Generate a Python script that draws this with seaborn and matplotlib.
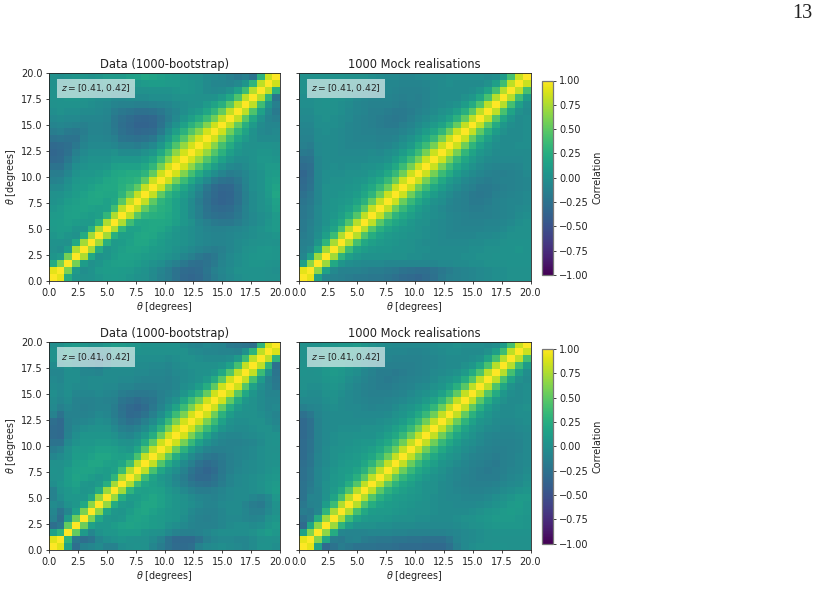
import numpy as np
import matplotlib
matplotlib.use("Agg")
import matplotlib.pyplot as plt
import seaborn as sns

# Upper triangles of the correlation matrices, in hundredths.
# Row i holds the entries for columns i..29 of a 30x30 symmetric matrix.
bootstrap_upper = [
    [100,92,22,4,0,2,5,8,9,8,5,2,0,-5,-12,-16,-24,-32,-34,-32,-24,-16,-10,-6,-2,0,2,2,0,0],
    [100,60,8,-2,2,8,10,10,9,8,4,1,-4,-10,-16,-24,-30,-32,-30,-22,-14,-8,-4,0,2,2,2,0,-1],
    [100,58,10,0,4,10,12,13,12,10,6,2,-2,-8,-14,-20,-26,-28,-24,-18,-10,-6,-2,2,4,4,3,2],
    [100,75,20,2,4,10,14,14,12,10,8,6,2,-2,-8,-14,-20,-24,-20,-12,-6,-2,2,4,5,5,4],
    [100,72,22,4,8,12,16,16,14,10,8,6,2,-2,-6,-10,-14,-16,-14,-8,-4,0,3,5,6,4],
    [100,72,25,8,10,14,18,18,14,10,6,4,2,-2,-6,-8,-10,-10,-8,-4,-2,0,2,3,2],
    [100,72,26,12,12,18,20,18,12,8,4,2,-2,-6,-8,-10,-10,-8,-6,-4,-2,0,2,4],
    [100,75,32,14,14,18,20,18,12,6,2,-2,-6,-10,-12,-12,-10,-8,-6,-2,2,6,8],
    [100,75,38,20,18,20,20,18,12,6,0,-8,-14,-18,-20,-20,-16,-10,-6,-2,4,8],
    [100,80,48,30,26,24,20,14,6,-4,-14,-22,-26,-28,-26,-20,-12,-6,-2,2,8],
    [100,82,52,34,26,22,14,6,-4,-14,-24,-30,-32,-30,-22,-12,-4,0,4,12],
    [100,82,50,30,22,14,6,-4,-16,-26,-33,-36,-34,-26,-14,-4,0,6,14],
    [100,82,50,30,20,10,0,-12,-24,-32,-36,-35,-26,-14,-4,0,8,18],
    [100,84,52,32,18,6,-6,-20,-30,-34,-33,-24,-12,-2,2,10,16],
    [100,85,58,36,20,6,-6,-18,-24,-26,-20,-10,-2,2,10,12],
    [100,86,62,40,22,8,-2,-10,-16,-14,-8,-2,2,8,10],
    [100,86,66,44,26,12,2,-6,-8,-4,0,4,8,8],
    [100,86,68,46,28,14,4,-2,-2,2,6,6,4],
    [100,86,68,46,28,12,4,0,2,4,4,2],
    [100,86,64,40,22,8,2,0,2,2,0],
    [100,86,62,36,18,8,0,-4,-4,-4],
    [100,85,56,32,16,2,-6,-8,-6],
    [100,82,52,26,8,-4,-8,-8],
    [100,82,48,20,2,-10,-14],
    [100,80,44,14,-6,-18],
    [100,80,38,4,-14],
    [100,78,30,-22],
    [100,80,28],
    [100,85],
    [100],
]

mock_upper = [
    [100,92,12,-8,-12,-14,-16,-18,-18,-20,-20,-22,-26,-30,-32,-34,-30,-26,-18,-14,-12,-10,-8,-6,-4,-2,-2,0,0,0],
    [100,65,14,-6,-12,-12,-12,-14,-16,-16,-18,-20,-24,-26,-28,-28,-24,-20,-16,-12,-10,-8,-6,-4,-2,-2,0,0,0],
    [100,70,20,4,-2,-4,-6,-6,-6,-8,-8,-8,-8,-8,-8,-8,-6,-6,-4,-4,-2,-2,0,0,0,2,2,2],
    [100,72,30,12,6,2,2,2,0,0,0,-2,-2,-4,-4,-4,-4,-4,-2,-2,0,0,2,2,2,2,2],
    [100,74,36,16,10,6,4,4,2,2,0,-2,-2,-4,-4,-4,-4,-4,-2,-2,0,0,2,2,4,2],
    [100,76,40,20,12,8,6,4,2,0,-2,-4,-4,-6,-6,-6,-6,-4,-4,-2,-2,0,2,2,2],
    [100,78,44,24,14,8,6,4,2,0,-2,-4,-6,-8,-8,-8,-8,-6,-6,-4,-2,0,0,0],
    [100,78,46,26,16,10,6,4,0,-2,-4,-6,-8,-10,-10,-10,-10,-8,-8,-6,-2,0,0],
    [100,80,48,28,18,12,6,2,0,-4,-6,-8,-10,-12,-12,-12,-10,-10,-8,-6,-2,0],
    [100,82,52,30,20,12,6,2,-2,-4,-8,-10,-12,-14,-14,-14,-12,-10,-8,-4,-2],
    [100,82,54,34,20,10,4,-2,-6,-10,-12,-14,-16,-16,-14,-12,-10,-8,-6,-4],
    [100,84,54,34,20,10,2,-2,-8,-12,-14,-18,-18,-16,-12,-10,-8,-8,-6],
    [100,84,56,34,20,10,2,-4,-10,-14,-18,-20,-18,-14,-12,-10,-8,-6],
    [100,84,56,36,20,10,2,-4,-10,-14,-18,-18,-16,-14,-12,-10,-8],
    [100,84,58,36,20,8,2,-6,-10,-14,-16,-14,-12,-12,-10,-8],
    [100,84,58,36,22,10,2,-4,-8,-12,-14,-14,-12,-10,-6],
    [100,84,58,36,20,10,2,-4,-8,-10,-10,-10,-8,-4],
    [100,84,58,34,18,8,0,-4,-6,-6,-6,-6,-4],
    [100,84,58,32,16,6,0,-4,-4,-4,-4,-4],
    [100,84,56,30,14,4,-2,-4,-4,-2,-2],
    [100,84,52,28,12,2,-4,-4,-4,-2],
    [100,82,50,26,10,0,-4,-4,-2],
    [100,80,48,22,6,-2,-4,-2],
    [100,80,44,18,4,-4,-2],
    [100,80,42,16,0,-4],
    [100,78,40,12,-2],
    [100,78,38,10],
    [100,80,40],
    [100,84],
    [100],
]

bootstrap_lower_bin_upper = [
    [100,90,14,-28,-12,-8,-4,-12,-12,-2,0,2,0,-8,-16,-24,-30,-30,-28,-12,-6,-4,-2,-4,-6,-8,-4,2,2,-2],
    [100,30,-20,-28,-22,-8,-2,2,4,2,0,0,-4,-12,-24,-32,-32,-32,-24,-14,-8,-6,-6,-8,-8,-4,0,2,0],
    [100,52,8,-8,2,6,6,10,10,10,4,2,0,-6,-12,-14,-14,-12,-8,-4,-2,-2,-2,-2,0,6,10,6],
    [100,55,14,6,6,10,14,16,14,12,10,8,2,-2,-6,-10,-12,-12,-12,-8,-4,-2,-2,-4,-2,4,8],
    [100,60,20,6,4,6,14,16,14,10,8,6,4,-2,-8,-12,-14,-12,-8,-6,-6,-8,-10,-8,0,4],
    [100,65,18,6,4,10,16,18,14,10,6,4,0,-6,-10,-12,-12,-8,-4,-4,-8,-14,-14,-6,0],
    [100,68,22,8,6,12,18,18,14,8,4,2,-2,-6,-10,-10,-6,-4,-4,-10,-16,-18,-8,2],
    [100,70,25,10,10,14,18,14,8,4,0,-4,-8,-10,-12,-8,-6,-4,-4,-8,-12,-6,6],
    [100,72,30,14,12,14,12,6,0,-6,-12,-16,-16,-14,-10,-6,-4,-4,-2,0,6,10],
    [100,75,36,18,12,8,2,-6,-14,-20,-24,-26,-22,-16,-10,-6,-4,-2,2,6,8],
    [100,78,38,16,6,0,-8,-16,-26,-32,-32,-26,-18,-10,-6,-4,-2,0,4,6],
    [100,80,42,18,6,-2,-12,-22,-30,-35,-30,-20,-14,-8,-6,-4,-2,2,4],
    [100,82,46,22,8,-4,-14,-24,-30,-26,-20,-14,-10,-6,-4,-2,0,2],
    [100,82,50,24,8,-4,-14,-20,-22,-18,-14,-10,-8,-6,-2,0,2],
    [100,85,54,28,10,-2,-10,-14,-14,-12,-10,-8,-6,-2,0,0],
    [100,85,58,34,14,2,-6,-10,-12,-12,-10,-8,-4,0,2],
    [100,86,60,36,16,2,-6,-8,-8,-6,-4,-2,0,2],
    [100,86,60,36,18,4,-2,-4,-4,-2,0,0,-4],
    [100,86,60,36,14,2,-2,-2,0,0,-4,-8],
    [100,85,56,28,10,2,0,0,-2,-6,-10],
    [100,85,52,24,8,2,0,-4,-8,-6],
    [100,85,50,22,6,0,-4,-8,-8],
    [100,85,48,20,4,-4,-10,-10],
    [100,85,46,14,-2,-10,-18],
    [100,82,40,8,-12,-20],
    [100,82,36,2,-22],
    [100,80,30,-26],
    [100,80,30],
    [100,88],
    [100],
]

mock_lower_bin_upper = [
    [100,92,14,-32,-24,-16,-20,-24,-24,-24,-26,-26,-28,-30,-30,-30,-32,-32,-32,-26,-14,-6,-2,0,0,2,2,0,0,0],
    [100,62,18,-16,-18,-12,-10,-16,-18,-20,-20,-22,-22,-24,-24,-26,-26,-26,-20,-10,-6,-4,-2,0,0,0,0,0,0],
    [100,66,22,-8,-10,-10,-10,-8,-8,-8,-10,-10,-12,-12,-12,-12,-12,-10,-8,-6,-4,-2,0,2,2,2,2,2],
    [100,70,30,10,2,0,0,-2,-2,-4,-4,-4,-6,-6,-6,-6,-6,-4,-2,0,2,4,6,6,6,6,4],
    [100,74,36,16,8,6,6,4,2,0,0,-2,-2,-4,-4,-4,-2,0,2,4,6,8,8,8,6,4],
    [100,76,40,20,10,8,8,6,4,2,0,0,-2,-4,-4,-4,-4,-2,0,4,6,8,10,8,6],
    [100,78,44,24,14,10,8,6,4,2,0,-2,-4,-4,-6,-6,-6,-4,-2,2,4,8,10,6],
    [100,78,46,26,16,10,8,6,4,2,-2,-4,-6,-6,-8,-8,-8,-6,-2,0,4,8,8],
    [100,80,48,28,18,12,8,6,2,0,-4,-6,-8,-10,-12,-12,-10,-8,-4,-2,2,4],
    [100,80,50,30,18,12,6,2,0,-4,-6,-10,-12,-14,-14,-14,-12,-8,-6,-4,0],
    [100,80,52,32,20,12,6,2,-2,-6,-8,-12,-14,-16,-16,-16,-12,-8,-6,-2],
    [100,82,54,34,20,12,6,0,-4,-8,-10,-14,-16,-18,-16,-14,-10,-8,-4],
    [100,82,54,34,20,12,4,0,-4,-8,-12,-14,-16,-18,-14,-12,-8,-6],
    [100,82,56,34,20,10,4,0,-6,-10,-12,-14,-16,-14,-12,-8,-6],
    [100,82,56,34,20,10,4,-2,-6,-10,-12,-14,-14,-12,-10,-6],
    [100,82,56,34,20,10,2,-2,-6,-10,-12,-12,-12,-10,-6],
    [100,82,56,34,18,8,2,-4,-8,-10,-10,-10,-8,-6],
    [100,82,56,32,16,6,0,-4,-6,-8,-8,-6,-4],
    [100,82,54,30,14,4,0,-4,-6,-6,-4,-2],
    [100,82,52,28,12,4,-2,-4,-4,-2,-2],
    [100,82,50,26,10,2,-4,-4,-2,0],
    [100,82,48,24,8,0,-4,-4,-2],
    [100,80,46,22,6,-2,-4,-2],
    [100,80,44,18,2,-4,-2],
    [100,80,42,16,0,-4],
    [100,78,40,12,-2],
    [100,78,38,10],
    [100,80,40],
    [100,84],
    [100],
]

panel_titles = ["Data (1000-bootstrap)", "1000 Mock realisations"]
redshift_label = r"$z = [0.41, 0.42]$"
theta_max = 20.0
theta_ticks = [0.0, 2.5, 5.0, 7.5, 10.0, 12.5, 15.0, 17.5, 20.0]
corr_ticks = [-1.0, -0.75, -0.5, -0.25, 0.0, 0.25, 0.5, 0.75, 1.0]
page_number = "13"

W, H = 818, 616
sns.set_theme(style="white", rc={
    "font.size": 7, "axes.linewidth": 0.6,
    "xtick.bottom": True, "ytick.left": True,
    "xtick.major.size": 2.5, "ytick.major.size": 2.5,
    "xtick.major.width": 0.6, "ytick.major.width": 0.6,
    "xtick.major.pad": 2.2, "ytick.major.pad": 2.2,
    "xtick.labelsize": 7, "ytick.labelsize": 7,
    "axes.labelsize": 6.9, "axes.titlesize": 8.3,
    "axes.edgecolor": "#222222", "xtick.color": "#222222", "ytick.color": "#222222",
    "text.color": "#222222", "axes.labelcolor": "#222222",
    "axes.grid": False,
})
plt.rcParams["font.family"] = ["DejaVu Sans"]


def box(left, top, right, bottom):
    """Axes rectangle in figure fractions from pixel edges."""
    return [left / W, 1 - bottom / H, (right - left) / W, (bottom - top) / H]


def symmetric(rows):
    n = len(rows)
    m = np.zeros((n, n))
    for i, row in enumerate(rows):
        assert len(row) == n - i
        m[i, i:] = row
        m[i:, i] = row
    return m / 100.0


fig = plt.figure(figsize=(W / 100, H / 100), dpi=100)

layout = [
    (bootstrap_upper, 0, (49, 73, 280, 281), True),
    (mock_upper, 1, (299, 73, 530.5, 281), False),
    (bootstrap_lower_bin_upper, 0, (49, 341.5, 280, 550), True),
    (mock_lower_bin_upper, 1, (299, 341.5, 530.5, 550), False),
]
colorbars = {1: (541.5, 80.5, 552.5, 275), 3: (541.5, 349, 552.5, 543.5)}

for k, (rows, t, rect, show_y) in enumerate(layout):
    ax = fig.add_axes(box(*rect))
    matrix = symmetric(rows)
    n = matrix.shape[0]
    cax = fig.add_axes(box(*colorbars[k])) if k in colorbars else None
    sns.heatmap(matrix, ax=ax, vmin=-1, vmax=1, cmap="viridis", square=False,
                cbar=cax is not None, cbar_ax=cax,
                xticklabels=False, yticklabels=False,
                cbar_kws={"ticks": corr_ticks} if cax is not None else None)
    # Cell indices map onto degrees through the bin count.
    ax.set_xlim(0, n)
    ax.set_ylim(0, n)
    positions = [v * n / theta_max for v in theta_ticks]
    ax.set_xticks(positions)
    ax.set_xticklabels([f"{v:.1f}" for v in theta_ticks], rotation=0)
    ax.set_yticks(positions)
    ax.set_yticklabels([f"{v:.1f}" for v in theta_ticks] if show_y else [], rotation=0)
    for s in ax.spines.values():
        s.set_visible(True)
    ax.set_title(panel_titles[t], pad=3.5)
    ax.set_xlabel(r"$\theta$ [degrees]", labelpad=1.5)
    if show_y:
        ax.set_ylabel(r"$\theta$ [degrees]", labelpad=2)
    ax.text(0.2035, 0.9255, redshift_label, transform=ax.transAxes, ha="center", va="center",
            fontsize=6.6, color="#222222",
            bbox=dict(boxstyle="square,pad=0.42", fc="white", ec="none", alpha=0.6))
    if cax is not None:
        cb = ax.collections[0].colorbar
        cb.outline.set_visible(True)
        cb.outline.set_linewidth(0.9)
        cb.outline.set_edgecolor("#777777")
        cb.ax.tick_params(length=2.5, width=0.6, pad=2.2, labelsize=7)
        cb.set_label("Correlation", fontsize=6.9, labelpad=2.5)

fig.text(802 / W, 1 - 14 / H, page_number, ha="center", va="center",
         family="Liberation Serif", fontsize=14.5, color="#222222")

fig.savefig("out.png", dpi=100)
